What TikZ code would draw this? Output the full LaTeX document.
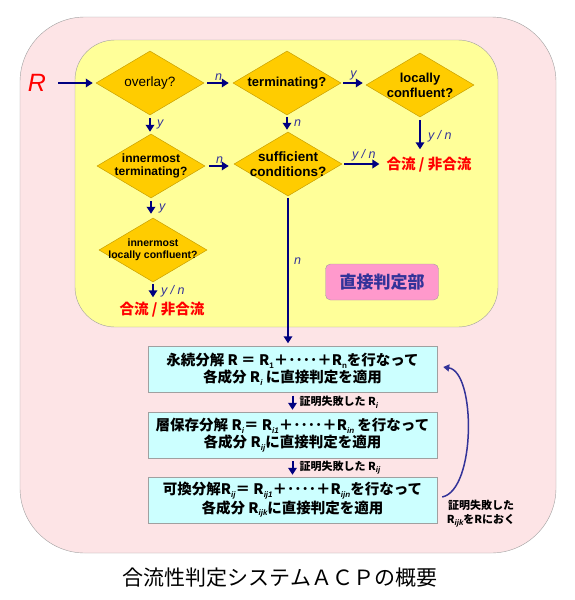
\documentclass[tikz,border=0pt]{standalone}
\usepackage{fontspec}
\setmainfont{Liberation Sans}
\newfontfamily\cjk{Noto Sans CJK JP}
\newfontfamily\lat{Liberation Sans}
\usetikzlibrary{shapes.geometric,arrows.meta}
\definecolor{outerpink}{HTML}{FDE4E6}
\definecolor{inneryel}{HTML}{FFFF99}
\definecolor{dia}{HTML}{FFCC00}
\definecolor{diaborder}{HTML}{C8A000}
\definecolor{navy}{HTML}{000080}
\definecolor{lbl}{HTML}{333399}
\definecolor{cyanbox}{HTML}{CCFFFF}
\definecolor{pinkbox}{HTML}{FF99CC}
\definecolor{edgegrey}{HTML}{A0A0A0}
\newcommand\sbs[1]{\raisebox{-0.35ex}{\lat\itshape\fontsize{8}{8}\selectfont #1}}
\tikzset{
  dec/.style={diamond, draw=diaborder, fill=dia, minimum width=108pt, minimum height=64pt, inner sep=0pt, line width=0.5pt},
  dtext/.style={align=center, inner sep=0pt, text=black},
  conn/.style={draw=navy, line width=2pt, -{Triangle[length=7pt,width=8.5pt]}},
  curv/.style={draw=lbl, line width=1.5pt, -{Triangle[length=6pt,width=7pt]}},
  elab/.style={text=lbl, font=\itshape\fontsize{12.5}{14}\selectfont, inner sep=1pt},
  res/.style={text=red, font=\cjk\bfseries\fontsize{14.5}{16}\selectfont, inner sep=1pt},
  cbox/.style={draw=edgegrey, fill=cyanbox, minimum width=289pt, minimum height=46pt, inner sep=0pt, align=center, font=\cjk\bfseries\fontsize{14.5}{17}\selectfont},
  flab/.style={font=\cjk\bfseries\fontsize{11}{14}\selectfont, inner sep=1pt, align=center}
}
\begin{document}
\begin{tikzpicture}[x=1pt,y=-1pt]
\useasboundingbox (0,0) rectangle (575,600);
\fill[white] (0,0) rectangle (575,600);
\draw[draw=edgegrey, fill=outerpink, rounded corners=65pt] (20,17) rectangle (556,553);
\draw[draw=edgegrey, fill=inneryel, rounded corners=40pt] (75,40) rectangle (498,327);

% diamonds
\node[dec, label={[dtext, font=\fontsize{13.5}{15}\selectfont]center:overlay?}] (ov) at (150,83) {};
\node[dec, label={[dtext, font=\bfseries\fontsize{13}{15}\selectfont]center:terminating?}] (tm) at (287,83) {};
\node[dec, label={[dtext, font=\bfseries\fontsize{13}{15}\selectfont]center:{locally\\confluent?}}] (lc) at (420,85) {};
\node[dec, label={[dtext, font=\bfseries\fontsize{12}{13}\selectfont]center:{innermost\\terminating?}}] (it) at (151,166) {};
\node[dec, label={[dtext, font=\bfseries\fontsize{13.5}{15}\selectfont]center:{sufficient\\conditions?}}] (sc) at (288,164) {};
\node[dec, label={[dtext, font=\bfseries\fontsize{10.5}{12}\selectfont]center:{innermost\\locally confluent?}}] (ilc) at (153,250) {};

% R input
\node[text=red, font=\itshape\fontsize{25}{25}\selectfont, inner sep=0pt] (R) at (37,83) {R};

% results
\node[res] (r1) at (429,165) {合流 / 非合流};
\node[res] (r2) at (162,310) {合流 / 非合流};

% direct judgement label
\node[draw=edgegrey, fill=pinkbox, rounded corners=5pt, minimum width=113pt, minimum height=36pt, text=lbl, font=\cjk\bfseries\fontsize{17}{19}\selectfont] (dj) at (382,282) {直接判定部};

% boxes
\node[cbox] (b1) at (292.5,369.5) {永続分解 R ＝ R\sbs{\upshape 1}＋････＋R\sbs{\upshape n}を行なって\\各成分 R\sbs{i} に直接判定を適用};
\node[cbox] (b2) at (292.5,435) {層保存分解 R\sbs{i}＝ R\sbs{i1}＋････＋R\sbs{in} を行なって\\各成分 R\sbs{ij}に直接判定を適用};
\node[cbox] (b3) at (292.5,500) {可換分解R\sbs{ij}＝ R\sbs{ij1}＋････＋R\sbs{ijn}を行なって\\各成分 R\sbs{ijk}に直接判定を適用};

% connectors
\draw[conn, shorten <=12pt, shorten >=3pt] (R.east) -- (ov.west);
\draw[conn, shorten <=3pt, shorten >=4pt] (ov.east) -- node[elab, above=1pt]{n} (tm.west);
\draw[conn, shorten <=2pt, shorten >=3pt] (tm.east) -- node[elab, above=1pt]{y} (tm.east -| lc.west);
\draw[conn, shorten <=3pt, shorten >=2pt] (ov.south) -- node[elab, right=5pt]{y} (ov.south |- it.north);
\draw[conn, shorten <=2pt, shorten >=2pt] (tm.south) -- node[elab, right=5pt]{n} (tm.south |- sc.north);
\draw[conn, shorten <=4pt, shorten >=5pt] (it.east) -- node[elab, above=1pt]{n} (it.east -| sc.west);
\draw[conn, shorten <=3pt, shorten >=4pt] (it.south) -- node[elab, right=6pt]{y} (it.south |- ilc.north);
\draw[conn, shorten <=3pt, shorten >=7pt] (lc.south) -- node[elab, right=6pt]{y / n} (lc.south |- r1.north);
\draw[conn, shorten <=2pt, shorten >=6pt] (sc.east) -- node[elab, above=1pt]{y / n} (sc.east -| r1.west);
\draw[conn, shorten <=2pt, shorten >=4pt] (ilc.south) -- node[elab, right=6pt]{y / n} (ilc.south |- r2.north);
\draw[conn, shorten <=2pt, shorten >=3pt] (sc.south) -- node[elab, right=4pt, pos=0.43]{n} (sc.south |- b1.north);
\draw[conn, shorten <=3pt, shorten >=2pt] (b1.south) -- node[flab, right=5pt]{証明失敗した R\sbs{i}} (b1.south |- b2.north);
\draw[conn, shorten <=3pt, shorten >=2pt] (b2.south) -- node[flab, right=5pt]{証明失敗した R\sbs{ij}} (b2.south |- b3.north);
\draw[curv] ([xshift=5pt,yshift=3pt]b3.east) .. controls (476,490) and (476,372) .. ([xshift=6pt,yshift=2.5pt]b1.east);
\node[flab] (fl) at (481,514) {証明失敗した\\R\sbs{ijk}をRにおく};

% caption
\node[font=\cjk\fontsize{21}{24}\selectfont] (cap) at (280,578) {合流性判定システムＡＣＰの概要};
\end{tikzpicture}
\end{document}
